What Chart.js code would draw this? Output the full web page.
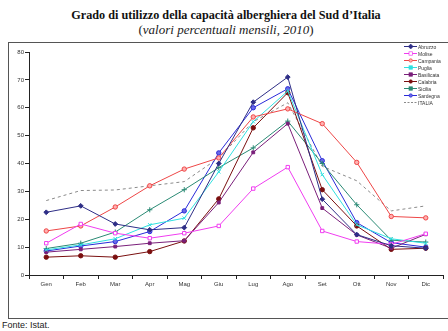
<!DOCTYPE html>
<html>
<head>
<meta charset="utf-8">
<script src="https://cdn.jsdelivr.net/npm/chart.js@4/dist/chart.umd.min.js"></script>
<style>
  html, body { margin: 0; padding: 0; width: 448px; height: 331px; overflow: hidden; background: #fff; }
  #title { position: absolute; left: 0; top: 7.5px; width: 452px; text-align: center;
           font: bold 12.2px "Liberation Serif", "Times New Roman", serif; color: #111; white-space: nowrap; }
  #sub { position: absolute; left: 0; top: 22px; width: 452px; text-align: center;
         font: 13px "Liberation Serif", "Times New Roman", serif; color: #222; white-space: nowrap; }
  #frame { position: absolute; left: 8px; top: 42px; width: 470px; height: 275px; border: 1px solid #555; }
  #wrap { position: absolute; left: 9px; top: 43px; width: 439px; height: 274px; }
  #legend { position: absolute; left: 404px; top: 43px; font: 5px "Liberation Sans", Arial, sans-serif; color: #333; }
  .row { height: 7.06px; display: flex; align-items: center; white-space: nowrap; }
  .row svg { margin-right: 1px; }
  #src { position: absolute; left: 2px; top: 320px; font: 9px "Liberation Sans", Arial, sans-serif; color: #222; }
</style>
</head>
<body>
<div id="title">Grado di utilizzo della capacità alberghiera del Sud d’Italia</div>
<div id="sub">(<i>valori percentuali mensili, 2010</i>)</div>
<div id="frame"></div>
<div id="wrap"><canvas id="c" width="439" height="274"></canvas></div>
<div id="legend"></div>
<div id="src">Fonte: Istat.</div>
<script>
// Mesi
const months = ['Gen', 'Feb', 'Mar', 'Apr', 'Mag', 'Giu', 'Lug', 'Ago', 'Set', 'Ott', 'Nov', 'Dic'];

// Grado di utilizzo mensile (%), 2010
const abruzzo    = [22.5, 24.8, 18.3, 16.2, 17.0, 40.0, 62.0, 71.0, 27.2, 14.5, 10.5,  9.6];
const molise     = [11.4, 18.3, 15.0, 13.2, 15.0, 17.6, 31.0, 38.7, 15.8, 12.0, 11.0, 14.8];
const campania   = [15.8, 17.6, 24.4, 32.0, 38.0, 42.0, 56.7, 59.6, 54.3, 40.4, 21.0, 20.5];
const puglia     = [ 9.0, 10.8, 13.0, 18.0, 20.4, 37.0, 55.0, 66.0, 36.0, 18.0, 13.0, 11.4];
const basilicata = [ 8.2,  9.2, 10.2, 11.4, 12.3, 26.0, 44.0, 54.3, 24.0, 14.4,  9.6, 14.6];
const calabria   = [ 6.4,  6.9,  6.4,  8.4, 12.2, 27.3, 52.8, 65.4, 30.6, 17.6,  9.2,  9.6];
const sicilia    = [ 9.5, 11.4, 15.4, 23.4, 30.6, 38.5, 45.6, 55.2, 40.0, 25.2, 12.5, 11.8];
const sardegna   = [ 8.6, 10.4, 12.0, 15.6, 23.0, 43.8, 60.0, 66.8, 41.0, 18.8, 11.6, 10.0];
const italia     = [26.7, 30.3, 30.5, 32.0, 33.5, 42.0, 55.0, 61.8, 39.0, 33.8, 23.0, 24.8];

// Asse Y
const yTicks = [0, 10, 20, 30, 40, 50, 60, 70, 80];

const series = [
  { label: 'Abruzzo',    data: abruzzo,    color: '#2e2e86', style: 'rectRot', fill: '#2e2e86', r: 2.4 },
  { label: 'Molise',     data: molise,     color: '#f03cf0', style: 'rect',    fill: '#ffffff', r: 2.4 },
  { label: 'Campania',   data: campania,   color: '#ee4646', style: 'circle',  fill: '#ffb0b0', r: 2.2 },
  { label: 'Puglia',     data: puglia,     color: '#30e0e0', style: 'crossRot',fill: '#30e0e0', r: 2.4 },
  { label: 'Basilicata', data: basilicata, color: '#7a1f7a', style: 'rect',    fill: '#7a1f7a', r: 2.0 },
  { label: 'Calabria',   data: calabria,   color: '#7a0f0f', style: 'circle',  fill: '#7a0f0f', r: 2.2 },
  { label: 'Sicilia',    data: sicilia,    color: '#2a8a74', style: 'cross',   fill: '#2a8a74', r: 2.6 },
  { label: 'Sardegna',   data: sardegna,   color: '#2a2ad8', style: 'circle',  fill: '#6a6ae8', r: 2.2 },
  { label: 'ITALIA',     data: italia,     color: '#8a8a8a', style: false,     fill: '#8a8a8a', r: 0, dash: [3, 3] }
];

const datasets = series.map(s => ({
  label: s.label,
  data: s.data,
  borderColor: s.color,
  backgroundColor: s.fill,
  borderWidth: 1,
  borderDash: s.dash || [],
  pointStyle: s.style,
  pointRadius: s.r,
  pointBorderWidth: 1,
  pointBorderColor: s.color,
  pointBackgroundColor: s.fill,
  tension: 0,
  fill: false
}));

const tickFont = { family: '"Liberation Sans", Arial, sans-serif', size: 6 };

new Chart(document.getElementById('c').getContext('2d'), {
  type: 'line',
  data: { labels: months, datasets },
  options: {
    responsive: false,
    animation: false,
    devicePixelRatio: 1,
    layout: { padding: { top: 9, right: 0, left: 0, bottom: 0 } },
    plugins: { legend: { display: false }, tooltip: { enabled: false }, title: { display: false } },
    scales: {
      x: {
        offset: true,
        grid: { offset: true, drawOnChartArea: false, drawTicks: true, tickLength: 4, color: '#222' },
        border: { display: true, color: '#222', width: 1 },
        ticks: { font: tickFont, color: '#333', padding: 2, maxRotation: 0, autoSkip: false },
        afterFit(scale) { scale.height = 42; }
      },
      y: {
        min: yTicks[0],
        max: yTicks[yTicks.length - 1],
        afterBuildTicks(scale) { scale.ticks = yTicks.map(v => ({ value: v })); },
        grid: { drawOnChartArea: false, drawTicks: true, tickLength: 4, color: '#222' },
        border: { display: true, color: '#222', width: 1 },
        ticks: { font: tickFont, color: '#333', padding: 1 },
        afterFit(scale) { scale.width = 20; }
      }
    }
  }
});

// Legenda
const legend = document.getElementById('legend');
const svgNS = 'http://www.w3.org/2000/svg';
series.forEach(s => {
  const row = document.createElement('div');
  row.className = 'row';
  const svg = document.createElementNS(svgNS, 'svg');
  svg.setAttribute('width', '13');
  svg.setAttribute('height', '5');
  const line = document.createElementNS(svgNS, 'line');
  line.setAttribute('x1', '0'); line.setAttribute('x2', '13');
  line.setAttribute('y1', '2.5'); line.setAttribute('y2', '2.5');
  line.setAttribute('stroke', s.color);
  line.setAttribute('stroke-width', '1');
  if (s.dash) line.setAttribute('stroke-dasharray', '2 1.5');
  svg.appendChild(line);
  if (s.style) {
    const m = document.createElementNS(svgNS, 'rect');
    m.setAttribute('x', '5'); m.setAttribute('y', '0.8');
    m.setAttribute('width', '3.4'); m.setAttribute('height', '3.4');
    m.setAttribute('fill', s.fill);
    m.setAttribute('stroke', s.color);
    m.setAttribute('stroke-width', '0.7');
    if (s.style === 'circle') { m.setAttribute('rx', '1.7'); }
    if (s.style === 'rectRot') { m.setAttribute('transform', 'rotate(45 6.7 2.5)'); }
    svg.appendChild(m);
  }
  row.appendChild(svg);
  row.appendChild(document.createTextNode(s.label));
  legend.appendChild(row);
});
</script>
</body>
</html>
